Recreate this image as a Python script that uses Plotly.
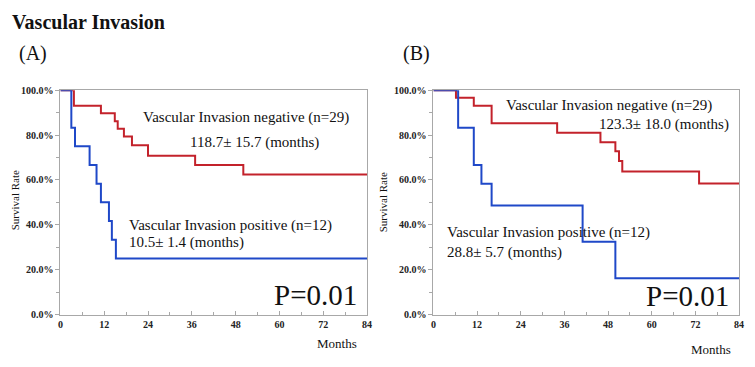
import plotly.graph_objects as go

W, H = 755, 367

# ---- data (months, survival %) ----
a_neg_t = [0, 3.7, 11.1, 14.9, 15.7, 17.4, 19.6, 24.0, 36.9, 50.1, 84]
a_neg_s = [100, 93.1, 89.7, 86.2, 82.8, 79.3, 75.4, 70.8, 66.7, 62.4, 62.4]
a_pos_t = [0, 3.0, 4.0, 8.0, 9.9, 11.1, 13.3, 14.1, 15.2, 84]
a_pos_s = [100, 83.3, 75.0, 66.7, 58.3, 50.0, 41.7, 33.3, 25.0, 25.0]

b_neg_t = [0, 6.2, 11.1, 16.0, 34.0, 45.9, 50.0, 51.0, 51.9, 73.0, 84]
b_neg_s = [100, 96.6, 93.1, 85.3, 81.0, 76.8, 72.8, 68.4, 63.8, 58.4, 58.4]
b_pos_t = [0, 6.8, 11.1, 13.2, 16.0, 41.0, 50.0, 84]
b_pos_s = [100, 83.3, 66.7, 58.3, 48.6, 32.4, 16.2, 16.2]

x_ticks = [0, 12, 24, 36, 48, 60, 72, 84]
y_ticks = [0, 20, 40, 60, 80, 100]
y_ticktext = ["0.0%", "20.0%", "40.0%", "60.0%", "80.0%", "100.0%"]

RED = "#c3222b"
BLUE = "#1f48c8"
SERIF = "Liberation Serif"

def px(x):
    return x / W

def py(y):
    return 1 - y / H

fig = go.Figure()
for t, s, col, xa, ya in [
    (a_neg_t, a_neg_s, RED, "x", "y"),
    (a_pos_t, a_pos_s, BLUE, "x", "y"),
    (b_neg_t, b_neg_s, RED, "x2", "y2"),
    (b_pos_t, b_pos_s, BLUE, "x2", "y2"),
]:
    fig.add_trace(go.Scatter(x=t, y=s, mode="lines", line=dict(color=col, width=2, shape="hv"),
                             xaxis=xa, yaxis=ya, showlegend=False, hoverinfo="skip"))

AXC = "#a8a8a8"
tickfont = dict(family=SERIF, size=10, color="#222", weight="bold")

def xaxis(domain, anchor):
    return dict(domain=domain, anchor=anchor, range=[0, 84], tickvals=x_ticks,
                ticks="inside", ticklen=4, tickcolor=AXC, showline=True, linecolor=AXC,
                linewidth=1, mirror=True, showgrid=False, zeroline=False, tickfont=tickfont,
                minor=dict(ticks="inside", tickvals=[6, 18, 30, 42, 54, 66, 78], ticklen=3, tickcolor=AXC),
                fixedrange=True)

def yaxis(anchor):
    return dict(domain=[py(319), py(87)], anchor=anchor, range=[0, 100], tickvals=y_ticks,
                ticktext=y_ticktext, ticks="outside", ticklen=4, tickcolor=AXC, showline=True,
                linecolor=AXC, linewidth=1, mirror=True, showgrid=False, zeroline=False,
                tickfont=tickfont,
                minor=dict(ticks="outside", tickvals=[10, 30, 50, 70, 90], ticklen=3, tickcolor=AXC),
                fixedrange=True)

fig.update_layout(
    width=W, height=H, margin=dict(l=0, r=0, t=0, b=0),
    paper_bgcolor="white", plot_bgcolor="white",
    xaxis=xaxis([px(58), px(368)], "y"),
    yaxis=yaxis("x"),
    xaxis2=xaxis([px(435), px(744)], "y2"),
    yaxis2=yaxis("x2"),
)

def ann(text, x, y, size, xanchor="left", bold=False, angle=0, color="#111"):
    fig.add_annotation(text=text, x=px(x), y=py(y), xref="paper", yref="paper",
                       xanchor=xanchor, yanchor="middle", showarrow=False, textangle=angle,
                       font=dict(family=SERIF, size=size, color=color,
                                 weight="bold" if bold else "normal"))

ann("Vascular Invasion", 7, 17, 20, bold=True)
ann("(A)", 14, 49, 20)
ann("(B)", 402, 49, 20)

# panel A
ann("Vascular Invasion negative (n=29)", 139, 115, 15)
ann("118.7± 15.7 (months)", 187, 141, 15)
ann("Vascular Invasion positive (n=12)", 125, 227, 15)
ann("10.5± 1.4 (months)", 125, 244, 15)
ann("P=0.01", 360, 299, 29, xanchor="right")
ann("Months", 338, 349, 13, xanchor="center")
ann("Survival Rate", 13, 201, 11, xanchor="center", angle=-90)

# panel B
ann("Vascular Invasion negative (n=29)", 506, 103, 15)
ann("123.3± 18.0 (months)", 600, 122, 15)
ann("Vascular Invasion positive (n=12)", 447, 234, 15)
ann("28.8± 5.7 (months)", 447, 255, 15)
ann("P=0.01", 736, 300, 29, xanchor="right")
ann("Months", 716, 355, 13, xanchor="center")
ann("Survival Rate", 384, 203, 11, xanchor="center", angle=-90)

fig.write_html(
    "out.html",
    config={"displayModeBar": False},
    post_script="document.body.style.margin='0';document.body.style.padding='0';"
                "document.body.style.overflow='hidden';",
)
